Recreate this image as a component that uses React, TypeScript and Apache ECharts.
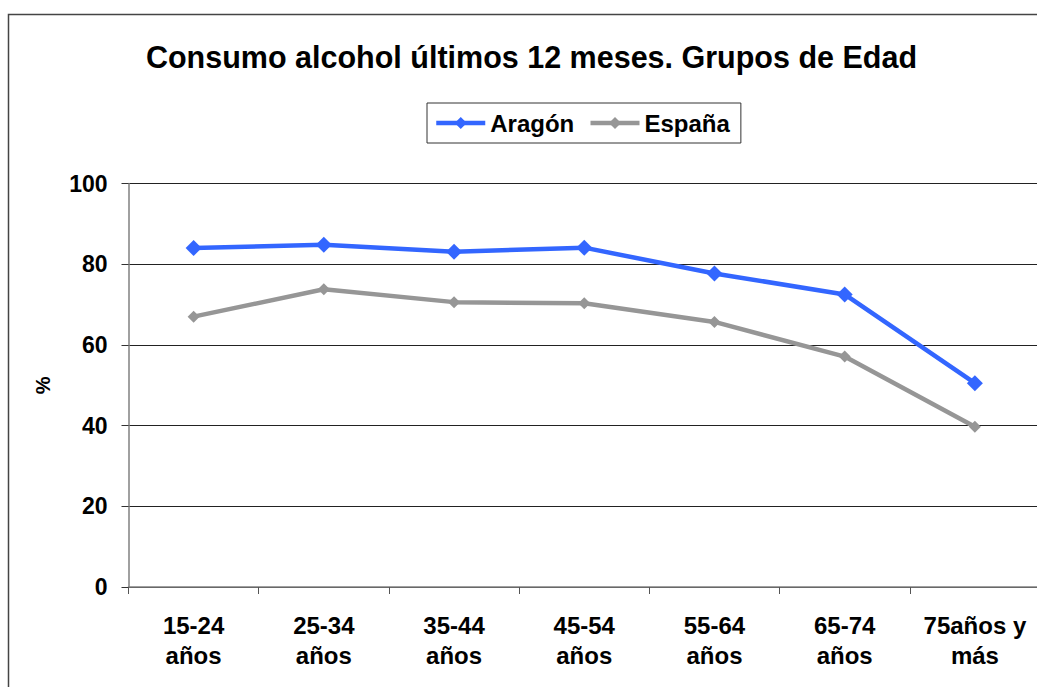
import React, { useEffect, useRef } from "react";
import * as echarts from "echarts";

const categories = ["15-24\naños", "25-34\naños", "35-44\naños", "45-54\naños", "55-64\naños", "65-74\naños", "75años y\nmás"];
const aragon = [84.0, 84.8, 83.1, 84.1, 77.7, 72.5, 50.5];
const espana = [67.0, 73.8, 70.6, 70.3, 65.7, 57.1, 39.7];
const yTicks = { min: 0, max: 100, interval: 20 };

const FONT = "'Liberation Sans', Arial, sans-serif";

export default function App() {
  const ref = useRef<HTMLDivElement>(null);
  useEffect(() => {
    if (!ref.current) return;
    const chart = echarts.init(ref.current, null, { renderer: "svg" });
    chart.setOption({
      animation: false,
      backgroundColor: "#ffffff",
      textStyle: { fontFamily: FONT },
      title: {
        text: "Consumo alcohol últimos 12 meses. Grupos de Edad",
        left: 526.5,
        top: 36,
        textAlign: "center",
        textStyle: { fontFamily: FONT, fontWeight: "bold", fontSize: 30.5, color: "#000" },
      },
      legend: {
        left: 427,
        top: 103,
        padding: [8, 11, 8, 7],
        itemGap: 14,
        itemWidth: 49,
        itemHeight: 15,
        borderColor: "#333",
        borderWidth: 1,
        lineStyle: { width: 4.5 },
        textStyle: { fontFamily: FONT, fontWeight: "bold", fontSize: 24, color: "#000" },
        data: ["Aragón", "España"],
      },
      graphic: [
        {
          type: "rect",
          shape: { x: 8.5, y: 14.5, width: 1200, height: 900 },
          style: { fill: "none", stroke: "#444", lineWidth: 1.5 },
          silent: true,
        },
      ],
      grid: {
        left: 128.5,
        top: 183.5,
        width: 911.5,
        height: 403.5,
        containLabel: false,
        outerBoundsMode: "none",
      },
      xAxis: {
        type: "category",
        data: categories,
        boundaryGap: true,
        axisLine: { show: true, lineStyle: { color: "#808080", width: 1.5 } },
        axisTick: { show: true, length: 7, lineStyle: { color: "#555", width: 1 } },
        axisLabel: {
          interval: 0,
          margin: 23,
          fontFamily: FONT,
          fontWeight: "bold",
          fontSize: 24,
          lineHeight: 30,
          color: "#000",
        },
        splitLine: { show: false },
      },
      yAxis: {
        type: "value",
        min: yTicks.min,
        max: yTicks.max,
        interval: yTicks.interval,
        name: "%",
        nameLocation: "middle",
        nameRotate: 90,
        nameGap: 76,
        nameTextStyle: { fontFamily: FONT, fontWeight: "bold", fontSize: 20, color: "#000" },
        axisLine: { show: true, lineStyle: { color: "#808080", width: 1.5 } },
        axisTick: { show: true, length: 7, lineStyle: { color: "#333", width: 1 } },
        axisLabel: {
          margin: 21,
          fontFamily: FONT,
          fontWeight: "bold",
          fontSize: 23,
          color: "#000",
        },
        splitLine: { show: true, lineStyle: { color: "#222", width: 1 } },
      },
      series: [
        {
          name: "Aragón",
          type: "line",
          data: aragon,
          symbol: "diamond",
          symbolSize: 16,
          lineStyle: { color: "#3366FF", width: 4.5 },
          itemStyle: { color: "#3366FF" },
        },
        {
          name: "España",
          type: "line",
          data: espana,
          symbol: "diamond",
          symbolSize: 12,
          lineStyle: { color: "#969696", width: 4.5 },
          itemStyle: { color: "#969696" },
        },
      ],
    });
    return () => chart.dispose();
  }, []);
  return (
    <div
      ref={ref}
      style={{ position: "fixed", left: 0, top: 0, width: 1037, height: 687 }}
    />
  );
}
